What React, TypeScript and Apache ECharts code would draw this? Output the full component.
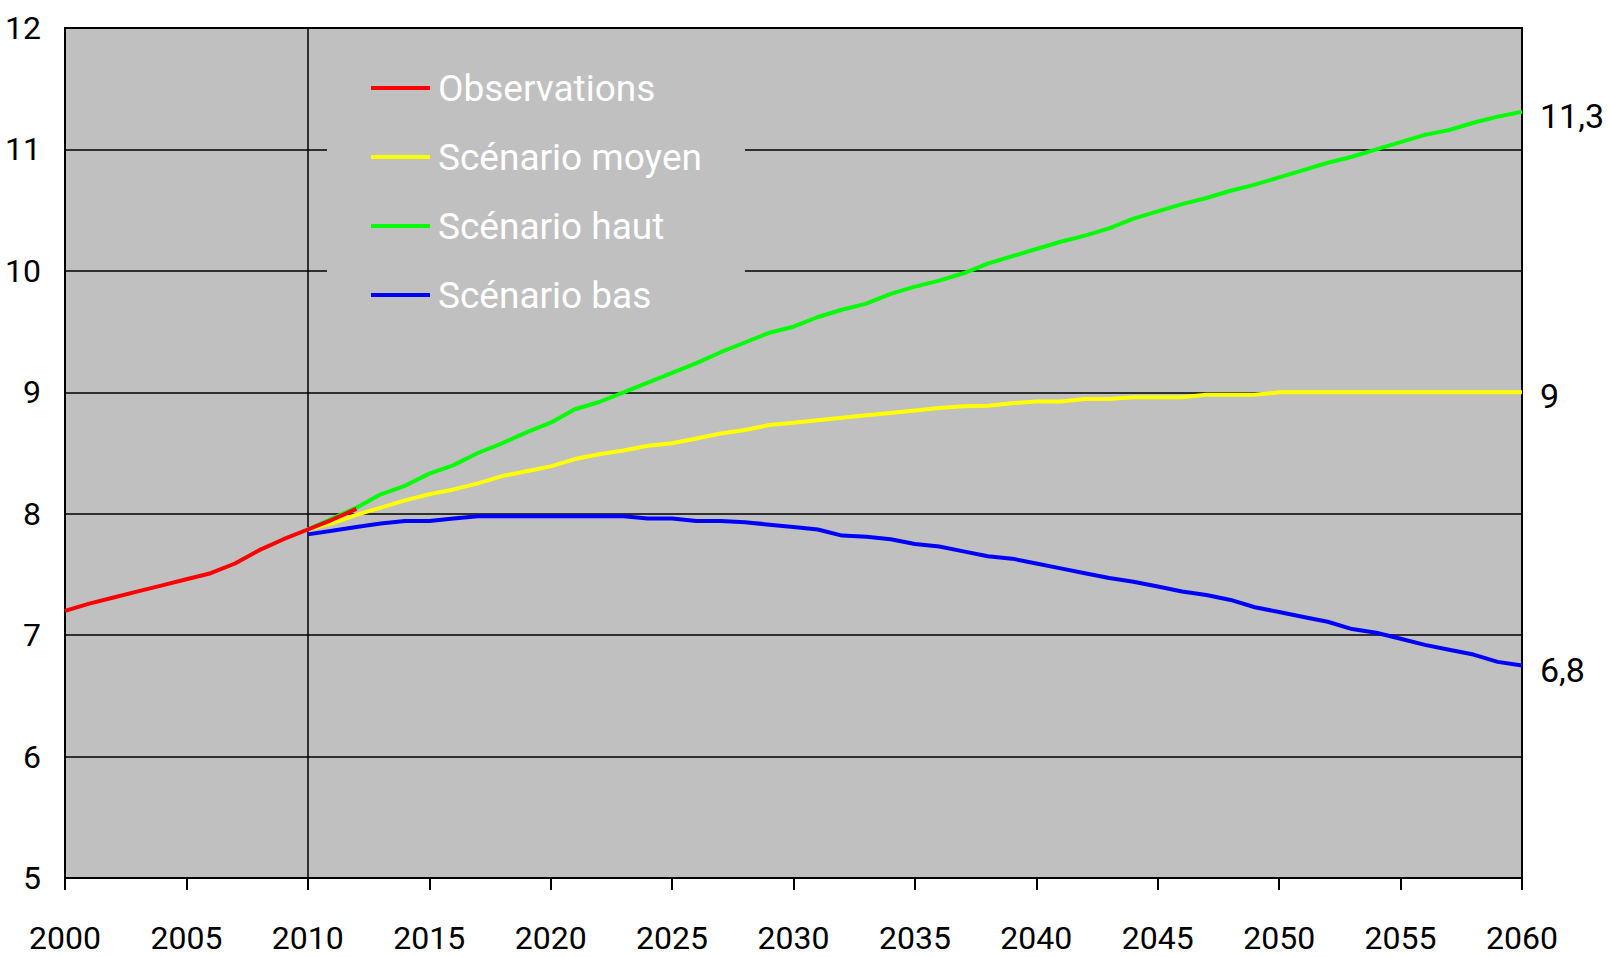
import React, { useEffect, useRef } from "react";
import * as echarts from "echarts";

const years = [
  "2000", "2001", "2002", "2003", "2004", "2005", "2006", "2007", "2008", "2009",
  "2010", "2011", "2012", "2013", "2014", "2015", "2016", "2017", "2018", "2019",
  "2020", "2021", "2022", "2023", "2024", "2025", "2026", "2027", "2028", "2029",
  "2030", "2031", "2032", "2033", "2034", "2035", "2036", "2037", "2038", "2039",
  "2040", "2041", "2042", "2043", "2044", "2045", "2046", "2047", "2048", "2049",
  "2050", "2051", "2052", "2053", "2054", "2055", "2056", "2057", "2058", "2059",
  "2060",
];

// Observations 2000–2012
const observations = [7.2, 7.26, 7.31, 7.36, 7.41, 7.46, 7.51, 7.59, 7.7, 7.79, 7.87, 7.95, 8.04];

// Scenarios 2010–2060
const scenarioStartIndex = 10;
const scenarioMoyen = [
  7.87, 7.92, 7.99, 8.05, 8.11, 8.16, 8.2, 8.25, 8.31, 8.35,
  8.39, 8.45, 8.49, 8.52, 8.56, 8.58, 8.62, 8.66, 8.69, 8.73,
  8.75, 8.77, 8.79, 8.81, 8.83, 8.85, 8.87, 8.885, 8.89, 8.91,
  8.925, 8.925, 8.945, 8.945, 8.96, 8.96, 8.96, 8.98, 8.98, 8.98,
  9.0, 9.0, 9.0, 9.0, 9.0, 9.0, 9.0, 9.0, 9.0, 9.0, 9.0,
];
const scenarioHaut = [
  7.87, 7.96, 8.05, 8.16, 8.23, 8.33, 8.4, 8.5, 8.58, 8.67,
  8.75, 8.86, 8.92, 9.0, 9.08, 9.16, 9.24, 9.33, 9.41, 9.49,
  9.54, 9.62, 9.68, 9.73, 9.81, 9.87, 9.92, 9.98, 10.06, 10.12,
  10.18, 10.24, 10.29, 10.35, 10.43, 10.49, 10.55, 10.6, 10.66, 10.71,
  10.77, 10.83, 10.89, 10.94, 11.0, 11.06, 11.12, 11.16, 11.22, 11.27, 11.31,
];
const scenarioBas = [
  7.83, 7.86, 7.89, 7.92, 7.94, 7.94, 7.96, 7.98, 7.98, 7.98,
  7.98, 7.98, 7.98, 7.98, 7.96, 7.96, 7.94, 7.94, 7.93, 7.91,
  7.89, 7.87, 7.82, 7.81, 7.79, 7.75, 7.73, 7.69, 7.65, 7.63,
  7.59, 7.55, 7.51, 7.47, 7.44, 7.4, 7.36, 7.33, 7.29, 7.23,
  7.19, 7.15, 7.11, 7.05, 7.02, 6.97, 6.92, 6.88, 6.84, 6.78, 6.75,
];

const seriesNames = ["Observations", "Scénario moyen", "Scénario haut", "Scénario bas"];
const seriesColors = ["#ff0000", "#ffff00", "#00ff00", "#0000ff"];

const FONT = "Roboto, 'Liberation Sans', sans-serif";

function padObs(values: number[]) {
  return years.map((_, i) => (i < values.length ? values[i] : null));
}
function padScenario(values: number[]) {
  return years.map((_, i) => (i >= scenarioStartIndex ? values[i - scenarioStartIndex] : null));
}

function endLabelFmt(p: any) {
  const v = Array.isArray(p.value) ? p.value[1] : p.value;
  return String(parseFloat(Number(v).toFixed(1))).replace(".", ",");
}

export default function App() {
  const ref = useRef<HTMLDivElement>(null);

  useEffect(() => {
    if (!ref.current) return;
    const chart = echarts.init(ref.current, undefined, { renderer: "svg" });

    const endLabel = {
      show: true,
      formatter: endLabelFmt,
      distance: 18,
      offset: [0, 4],
      fontFamily: FONT,
      fontSize: 34,
      color: "#000",
    };

    const datas = [
      padObs(observations),
      padScenario(scenarioMoyen),
      padScenario(scenarioHaut),
      padScenario(scenarioBas),
    ];

    const series: any[] = seriesNames.map((name, i) => ({
      name,
      type: "line",
      data: datas[i],
      showSymbol: false,
      symbol: "none",
      connectNulls: false,
      z: i === 0 ? 4 : 3,
      lineStyle: { color: seriesColors[i], width: 4 },
      itemStyle: { color: seriesColors[i] },
      endLabel: i === 0 ? { show: false } : endLabel,
    }));

    series[1].markLine = {
      silent: true,
      symbol: ["none", "none"],
      label: { show: false },
      lineStyle: { color: "#000", width: 1.5, type: "solid" },
      data: [{ xAxis: years[scenarioStartIndex] }],
      z: 2,
    };

    chart.setOption({
      animation: false,
      backgroundColor: "#ffffff",
      textStyle: { fontFamily: FONT },
      grid: {
        left: 65,
        right: 87,
        top: 28,
        bottom: 79,
        show: true,
        backgroundColor: "#c0c0c0",
        borderColor: "#000",
        borderWidth: 2,
        containLabel: false,
      },
      legend: {
        orient: "vertical",
        left: 327,
        top: 50,
        padding: [15, 43, 8, 44],
        backgroundColor: "#c0c0c0",
        itemGap: 23,
        itemWidth: 59,
        itemHeight: 4,
        icon: "rect",
        data: seriesNames,
        textStyle: {
          color: "#ffffff",
          fontFamily: FONT,
          fontSize: 37,
          lineHeight: 46,
          padding: [0, 0, 0, 3],
        },
        selectedMode: false,
      },
      xAxis: {
        type: "category",
        data: years,
        boundaryGap: false,
        axisLine: { show: true, lineStyle: { color: "#000", width: 2 } },
        axisTick: {
          show: true,
          interval: 4,
          length: 12,
          lineStyle: { color: "#000", width: 2 },
        },
        axisLabel: {
          interval: 4,
          margin: 44,
          color: "#000",
          fontFamily: FONT,
          fontSize: 32,
        },
        splitLine: { show: false },
      },
      yAxis: {
        type: "value",
        min: 5,
        max: 12,
        interval: 1,
        axisLine: { show: true, lineStyle: { color: "#000", width: 2 } },
        axisTick: { show: false },
        axisLabel: {
          margin: 24,
          color: "#000",
          fontFamily: FONT,
          fontSize: 32,
        },
        splitLine: { show: true, lineStyle: { color: "#000", width: 1.5 } },
      },
      series,
    });

    return () => chart.dispose();
  }, []);

  return (
    <div
      ref={ref}
      style={{ position: "fixed", left: 0, top: 0, width: 1609, height: 957, background: "#fff" }}
    />
  );
}
